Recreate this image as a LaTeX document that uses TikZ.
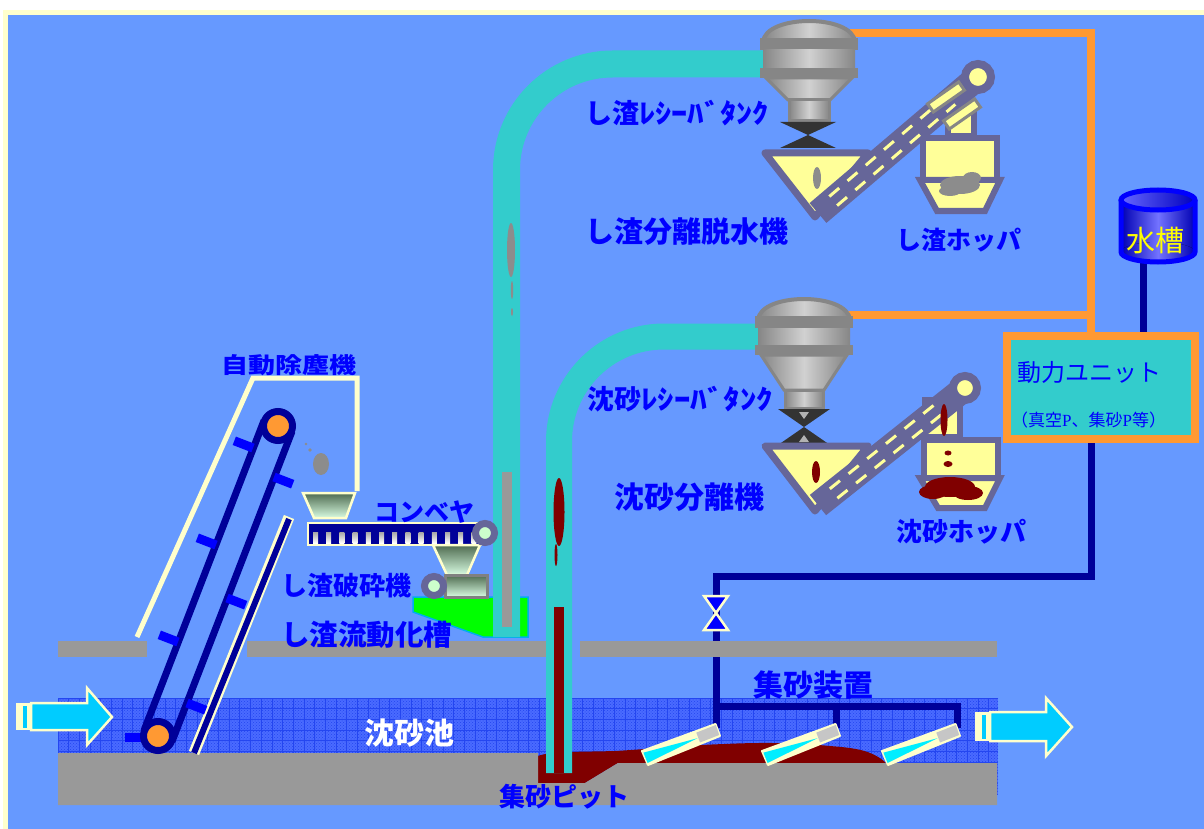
\documentclass[tikz,border=0pt]{standalone}
\usepackage{fontspec}
\usepackage{graphicx}
\usetikzlibrary{calc,patterns}
\newfontfamily\jp{Noto Sans CJK JP}
\newfontfamily\pserif{Liberation Serif}
\newcommand\setfs[1]{\fontsize{#1}{#1}\selectfont}
\definecolor{bgblue}{HTML}{6699FF}
\definecolor{cream}{HTML}{FFFFCC}
\definecolor{water}{HTML}{4A6BFF}
\definecolor{wgrid}{HTML}{2446F0}
\definecolor{floorgrey}{HTML}{999999}
\definecolor{sandred}{HTML}{800000}
\definecolor{pipeteal}{HTML}{33CCCC}
\definecolor{orng}{HTML}{FF9933}
\definecolor{navy}{HTML}{000099}
\definecolor{slate}{HTML}{666699}
\definecolor{paley}{HTML}{FFFF99}
\definecolor{tblue}{HTML}{0000FF}
\definecolor{flow}{HTML}{00CCFF}
\definecolor{jet}{HTML}{00EEFF}
\definecolor{mint}{HTML}{CCFFCC}
\definecolor{tankgrey}{HTML}{868686}
\definecolor{valvedark}{HTML}{333333}
\definecolor{greenbed}{HTML}{00FF00}
\definecolor{debris}{HTML}{8C8C8C}
\definecolor{hopdark}{HTML}{4F6B50}
\definecolor{hoplight}{HTML}{D8FCE2}
\definecolor{ytank}{HTML}{FFFF00}

\begin{document}
\begin{tikzpicture}[x=1pt,y=-1pt,
  lbl/.style={text=tblue,inner sep=0pt,anchor=west,font=\jp\bfseries\setfs{#1}},
  oline/.style={draw=orng,line width=8pt},
  npipe/.style={draw=navy,line width=7pt},
  floorbar/.style={fill=floorgrey},
  metal/.style={left color=tankgrey,right color=tankgrey,middle color=white!82!black},
  tankline/.style={draw=tankgrey,line width=3pt},
  band/.style={fill=tankgrey},
  valvebody/.style={fill=valvedark},
  trough/.style={draw=slate,line width=7pt,fill=paley,line join=round},
  screw/.style={draw=slate,line width=26pt},
  screwdash/.style={draw=paley,line width=3pt,dash pattern=on 13pt off 11pt},
  hopbox/.style={draw=slate,line width=6pt,fill=paley,line join=miter},
  ring/.style={draw=slate,line width=8pt,fill=paley},
  feedhop/.style={top color=hopdark,bottom color=hoplight,draw=cream,line width=2.5pt},
  wheel/.style={draw=slate,line width=7pt,fill=mint},
  flowarrow/.style={fill=flow,draw=cream,line width=2.5pt,line join=miter},
  flight/.style={draw=tblue,line width=9pt},
  beltline/.style={draw=navy,line width=7pt},
  nozzle/.style={fill=cream,draw=cream,line width=2pt,line join=round},
  unitbox/.style={draw=orng,line width=8pt,fill=pipeteal,minimum width=188pt,minimum height=103pt,inner sep=0pt}
]
\useasboundingbox (0,0) rectangle (1204,829);

% frame and background
\fill[white] (0,0) rectangle (1204,829);
\fill[cream] (3,10) rectangle (1204,829);
\fill[bgblue] (8,15) rectangle (1204,829);

% grit chamber water
\fill[water] (58,698) rectangle (998,795);
\fill[pattern=crosshatch dots,pattern color=wgrid] (58,698) rectangle (998,795);
\foreach \i in {0,...,87} \draw[wgrid,line width=0.9pt] ({58+\i*10.7},698) -- ({58+\i*10.7},795);
\foreach \j in {0,...,9} \draw[wgrid,line width=0.9pt] (58,{698+\j*10.7}) -- (998,{698+\j*10.7});

% named points of the piping
\coordinate (ox) at (1091,0);
\coordinate (t1o) at (850,33);
\coordinate (t2o) at (846,315);
\coordinate (vlv) at (716,613);
\coordinate (n1) at (716,728);
\coordinate (n2) at (836,728);
\coordinate (n3) at (957,728);
\coordinate (hdr) at (716,706);

% power unit
\node[unitbox] (unit) at (1101,387.5) {};

% water supply and sand collecting piping
\draw[npipe] (unit.south -| ox) |- (716,576) -- (n1);
\draw[npipe] (hdr) -| (n3);
\draw[npipe] (n2 |- hdr) -- (n2);

% sand deposit and floors
\fill[sandred] (538,756) .. controls (550,751) and (585,752) .. (615,751)
  .. controls (650,749) and (690,745) .. (725,744)
  .. controls (765,742) and (800,743) .. (830,746)
  .. controls (855,748) and (872,750) .. (886,763)
  -- (618,763) -- (585,783) -- (538,783) -- cycle;
\fill[floorbar] (58,753) -- (538,753) -- (538,783) -- (585,783) -- (618,763)
  -- (997,763) -- (997,805) -- (58,805) -- cycle;
\fill[floorbar] (58,641) rectangle (147,657);
\fill[floorbar] (247,641) rectangle (548,657);
\fill[floorbar] (580,641) rectangle (997,657);

% valve on the water line
\filldraw[fill=tblue,draw=cream,line width=2.5pt,line join=miter]
  (704,596) -- (728,596) -- (vlv) -- cycle
  (vlv) -- (728,630) -- (704,630) -- cycle;

% jet nozzles
\foreach \dx in {0,120,240}{
  \begin{scope}[shift={(\dx,0)}]
    \filldraw[nozzle] (715.5,724) -- (720,736) -- (648,765) -- (642,751) -- cycle;
    \fill[gray!45] (715.8,725) -- (719.2,735) -- (700,742.5) -- (696.3,732.6) -- cycle;
    \fill[jet] (697.5,738.2) -- (647.6,763) -- (643.4,752.6) -- cycle;
  \end{scope}
}

% screenings fluidising tank
\filldraw[fill=greenbed,draw=cyan,line width=1.5pt] (413,597) -- (528,597) -- (528,637) -- (483,637) -- (413,612) -- cycle;

% transport pipes
\coordinate (p1a) at (506.5,637);
\coordinate (p1b) at (770,64);
\coordinate (p2a) at (559,773);
\coordinate (p2b) at (765,336.5);
\draw[pipeteal,line width=27pt,rounded corners=106pt] (p1a) -- (506.5,64) -- (p1b);
\draw[pipeteal,line width=26pt,rounded corners=105pt] (p2a) -- (559,336.5) -- (p2b);
\fill[floorgrey] (502,472) rectangle (512,627);
\fill[sandred] (554,607) rectangle (564,773);
\fill[debris] (511,250) ellipse (4 and 27);
\fill[debris] (512,290) ellipse (1.2 and 9);
\fill[debris] (512,312) ellipse (1 and 4);
\fill[sandred] (559,512) ellipse (5.5 and 34);
\fill[sandred] (556,555) ellipse (1.5 and 11);

% bar screen housing
\draw[cream,line width=5pt,line join=miter] (137,637) -- (253,378) -- (357,378) -- (357,491);
\draw[cream,line width=11pt] (289,517) -- (194,753);
\draw[navy,line width=6pt] (289,519) -- (194,753);

% screen belt with flights
\coordinate (ptop) at (278,426);
\coordinate (pbot) at (158,736);
\draw[beltline] (264,420.6) -- (144,730.6);
\draw[beltline] (292,431.4) -- (172,741.4);
\foreach \a/\b in {253/448,216/545,178/642}
  \draw[flight] (\a,\b) -- ++(-18.7,-7.2);
\foreach \a/\b in {274/477,227/598,187/703}
  \draw[flight] (\a,\b) -- ++(18.7,7.2);
\draw[flight] (145,737) -- (125,737);
\filldraw[beltline,fill=orng] (ptop) circle (14.5);
\filldraw[beltline,fill=orng] (pbot) circle (14.5);
\fill[debris] (321,464) ellipse (8 and 11);
\fill[debris] (306,444) circle (1.3);
\fill[debris] (310,450) circle (1.8);

% feed hopper, conveyor and crusher
\filldraw[feedhop] (303,493) -- (355,493) -- (346,518) -- (314,518) -- cycle;
\filldraw[fill=navy,draw=cream,line width=2.5pt] (308,523) rectangle (481,545);
\foreach \i in {0,...,12}
  \fill[top color=gray!70,bottom color=white] ({313+13.2*\i},532) rectangle ++(5,11);
\filldraw[feedhop] (433,545) -- (480,545) -- (467,575) -- (447,575) -- cycle;
\filldraw[top color=hopdark,bottom color=hoplight,draw=gray,line width=3pt] (445,575) rectangle (487,597);
\filldraw[wheel] (485,533) circle (9.5);
\filldraw[wheel] (434,586) circle (9.5);

% pneumatic lines to the receiver tanks
\draw[oline] (t1o) -| (unit.north -| ox);
\draw[oline] (t2o) -- (t2o -| ox);

% screenings receiver tank
\filldraw[metal,draw=tankgrey,line width=4pt] (763,42) .. controls (765,14) and (853,14) .. (855,42) -- cycle;
\fill[band] (760,38) rectangle (858,50);
\fill[metal] (763,50) rectangle (855,68);
\fill[band] (760,68) rectangle (858,78);
\filldraw[metal,tankline] (766,78) -- (852,78) -- (830,100) -- (788,100) -- cycle;
\filldraw[metal,tankline] (789,100) rectangle (829,121);
\fill[valvebody] (780,122) -- (836,122) -- (808,135) -- (836,148) -- (780,148) -- (808,135) -- cycle;

% grit receiver tank
\filldraw[metal,draw=tankgrey,line width=4pt] (758,320) .. controls (760,292) and (848,292) .. (850,320) -- cycle;
\fill[band] (755,316) rectangle (853,328);
\fill[metal] (758,328) rectangle (850,345);
\fill[band] (755,345) rectangle (853,355);
\filldraw[metal,tankline] (761,355) -- (847,355) -- (824,390) -- (784,390) -- cycle;
\filldraw[metal,tankline] (785,390) rectangle (823,408);
\fill[valvebody] (778,409) -- (830,409) -- (804,427) -- (830,445) -- (778,445) -- (804,427) -- cycle;
\fill[gray!60] (799,412) -- (809,412) -- (804,419) -- cycle;
\fill[gray!60] (799,442) -- (809,442) -- (804,435) -- cycle;

% screenings separator / dewatering screw
\filldraw[trough] (765,153) -- (868,153) -- (815,217) -- cycle;
\fill[debris] (817,178) ellipse (4 and 11);
\filldraw[hopbox] (948,110) rectangle (974,136);
\filldraw[hopbox] (923,138) rectangle (997,180);
\filldraw[hopbox] (920,180) -- (1000,180) -- (985,211) -- (937,211) -- cycle;
\fill[debris] (960,185) ellipse (20 and 9);
\fill[debris] (950,191) ellipse (11 and 5);
\fill[debris] (972,178) ellipse (9 and 6);
\draw[screw] (818,213) -- (978,77);
\draw[screwdash] (837.1,205.6) -- (955.3,104.4);
\draw[screwdash] (829.3,196.5) -- (947.5,95.3);
\node[draw=tankgrey,line width=3pt,fill=paley,minimum width=38pt,minimum height=10pt,rotate=35,inner sep=0pt] (cap1) at (946,97) {};
\node[draw=tankgrey,line width=3pt,fill=paley,minimum width=38pt,minimum height=10pt,rotate=35,inner sep=0pt] (cap2) at (962,114) {};
\filldraw[ring] (978,77) circle (13);

% grit separator
\filldraw[trough] (765,446) -- (868,446) -- (815,511) -- cycle;
\fill[sandred] (816,472) ellipse (4 and 11);
\filldraw[hopbox] (925,400) rectangle (960,437);
\filldraw[hopbox] (924,440) rectangle (998,478);
\filldraw[hopbox] (920,478) -- (1000,478) -- (985,508) -- (938,508) -- cycle;
\draw[screw] (818,505) -- (965,388);
\draw[screwdash] (837.4,498.2) -- (943.8,412.7);
\draw[screwdash] (829.8,488.8) -- (936.2,403.3);
\filldraw[ring] (965,388) circle (12);
\fill[sandred] (944,420) ellipse (3.5 and 16);
\fill[sandred] (948,453) ellipse (3.5 and 2.5);
\fill[sandred] (948,464) ellipse (4.5 and 3);
\fill[sandred] (950,487) ellipse (25 and 10);
\fill[sandred] (933,492) ellipse (14 and 7);
\fill[sandred] (968,493) ellipse (15 and 7);

% water tank
\coordinate (wt) at (1158,200);
\draw[npipe] (1143,262) -- (unit.north -| 1143,0);
\fill[left color=blue!70!black,right color=blue!70!black,middle color=blue!55!white] (1121,200) rectangle (1195,252);
\fill[left color=blue!70!black,right color=blue!70!black,middle color=blue!55!white] (1158,252) ellipse (37 and 10);
\fill[left color=blue!60!white,right color=blue!75!black] (wt) ellipse (37 and 10);
\draw[tblue,line width=5pt] (1121,200) -- (1121,252) arc[start angle=180,end angle=0,x radius=37,y radius=10] -- (1195,200);
\draw[tblue,line width=5pt] (wt) ellipse (37 and 10);

% inflow and outflow arrows
\fill[cream] (16,703) rectangle (31,730);
\fill[flow] (23,705.5) rectangle (27,727.5);
\filldraw[flowarrow] (31,703) -- (87,703) -- (87,688) -- (112,717) -- (87,745) -- (87,730) -- (31,730) -- cycle;
\fill[cream] (975,712) rectangle (990,741);
\fill[flow] (982,714.5) rectangle (986,738.5);
\filldraw[flowarrow] (990,712) -- (1046,712) -- (1046,698) -- (1072,727) -- (1046,756) -- (1046,741) -- (990,741) -- cycle;

% labels
\node[lbl=27] (l1) at (585,113) {し渣\scalebox{1.2}[1]{ﾚｼｰﾊﾞﾀﾝｸ}};
\node[lbl=29] (l2) at (585,232) {し渣分離脱水機};
\node[lbl=25] (l3) at (896,240) {し渣ホッパ};
\node[lbl=27] (l4) at (587,399) {沈砂\scalebox{1.22}[1]{ﾚｼｰﾊﾞﾀﾝｸ}};
\node[lbl=30] (l5) at (614,497) {沈砂分離機};
\node[lbl=26] (l6) at (896,532) {沈砂ホッパ};
\node[lbl=27] (l7) at (221,365) {\scalebox{1}[0.82]{自動除塵機}};
\node[lbl=25] (l8) at (374,512) {コンベヤ};
\node[lbl=26] (l9) at (281,586) {し渣破砕機};
\node[lbl=28.5] (l10) at (281,635) {し渣流動化槽};
\node[lbl=30,text=white] (l11) at (364,733) {沈砂池};
\node[lbl=30] (l12) at (753,685) {集砂装置};
\node[lbl=26] (l13) at (499,797) {集砂ピット};
\node[text=tblue,inner sep=0pt,anchor=west,font=\jp\setfs{24}] (l14) at (1017,372) {動力ユニット};
\node[text=tblue,inner sep=0pt,anchor=west,font=\jp\setfs{17}] (l15) at (1011,420) {（真空{\pserif P}、集砂{\pserif P}等）};
\node[text=ytank,inner sep=0pt,font=\jp\setfs{29}] (l16) at (1155,241) {水槽};
\end{tikzpicture}
\end{document}
